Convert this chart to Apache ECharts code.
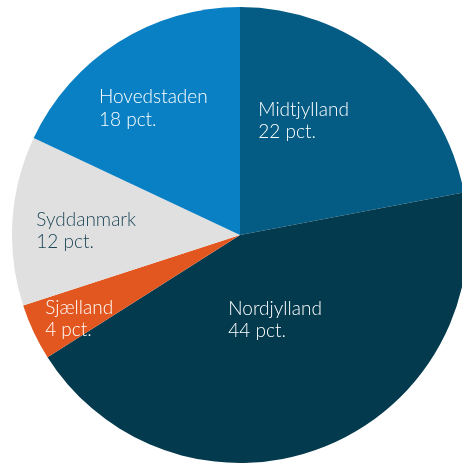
<!DOCTYPE html>
<html>
<head>
<meta charset="utf-8">
<script src="https://cdn.jsdelivr.net/npm/echarts@6/dist/echarts.min.js"></script>
<style>
  html, body { margin: 0; padding: 0; background: #fff; }
  #chart { width: 462px; height: 468px; }
</style>
</head>
<body>
<div id="chart"></div>
<script>
// regioner og andele (pct.)
var regions = ['Midtjylland', 'Nordjylland', 'Sjælland', 'Syddanmark', 'Hovedstaden'];
var shares = [22, 44, 4, 12, 18];
var unit = 'pct.';

var colors = ['#045c84', '#043a4d', '#e2571f', '#e0e0e0', '#0a80c4'];
var textColors = ['#ffffff', '#ffffff', '#ffffff', '#1d4657', '#ffffff'];
// label nudges from the slice middle
var labelOffsets = [[-11, -24], [-8, -24], [-55, 34], [-37, 3], [-24, -28]];

var chart = echarts.init(document.getElementById('chart'));

var seriesData = regions.map(function (name, i) {
  return {
    name: name,
    value: shares[i],
    itemStyle: { color: colors[i] },
    label: {
      offset: labelOffsets[i],
      rich: {
        t: { color: textColors[i], align: 'left', fontSize: 19, lineHeight: 22.5,
             fontFamily: 'Lato', fontWeight: 300 }
      }
    }
  };
});

chart.setOption({
  backgroundColor: '#ffffff',
  animation: false,
  series: [{
    type: 'pie',
    center: [240, 235],
    radius: 228,
    startAngle: 90,
    clockwise: true,
    silent: true,
    label: {
      show: true,
      position: 'inside',
      formatter: function (p) {
        return '{t|' + p.name + '}\n{t|' + p.value + ' ' + unit + '}';
      }
    },
    labelLine: { show: false },
    data: seriesData
  }]
});
</script>
</body>
</html>
